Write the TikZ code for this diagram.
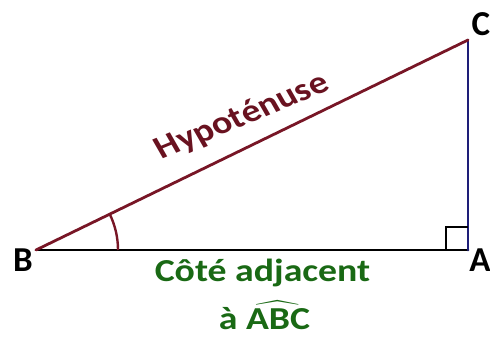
\documentclass[tikz,border=0pt]{standalone}
\usepackage{amsmath}
\usepackage{fontspec}
\setmainfont{Carlito}
\usetikzlibrary{calc}
\definecolor{hypred}{RGB}{120,22,38}
\definecolor{hyptext}{RGB}{105,18,32}
\definecolor{adjgreen}{RGB}{25,105,20}
\definecolor{oppblue}{RGB}{30,30,120}
\tikzset{
  vlabel/.style={font=\bfseries\fontsize{35}{37}\selectfont, inner sep=0pt},
  side/.style={line width=2.8pt, line cap=round},
  sidetext/.style={font=\bfseries\fontsize{32}{34}\selectfont, inner sep=0pt, xscale=1.18},
}
\begin{document}
\begin{tikzpicture}[x=1pt,y=1pt]
\useasboundingbox (0,0) rectangle (490,340);
\coordinate (B) at (36,90);
\coordinate (A) at (468,90);
\coordinate (C) at (468,300);
\draw[side, black] (B) -- (A);
\draw[side, oppblue] (A) -- (C);
\draw[side, hypred] (B) -- (C);
\draw[line width=2.4pt, hypred] ($(B)+(82,0)$) arc[start angle=0, end angle=25.9, radius=82];
\draw[line width=2.4pt, black] ($(A)+(-22,0)$) -- ++(0,23) -- ++(22,0);
\node[vlabel] (lb) at (23,80) {B};
\node[vlabel] (la) at (480,80) {A};
\node[vlabel] (lc) at (481,316) {C};
\node[sidetext, text=hyptext, rotate=25.9] (hyp) at (242,223) {Hypoténuse};
\node[sidetext, text=adjgreen, anchor=base] (adj) at (262.5,58) {Côté adjacent};
\node[sidetext, text=adjgreen, anchor=base] (abc) at (264.5,10) {à $\widehat{\text{ABC}}$};
\end{tikzpicture}
\end{document}
